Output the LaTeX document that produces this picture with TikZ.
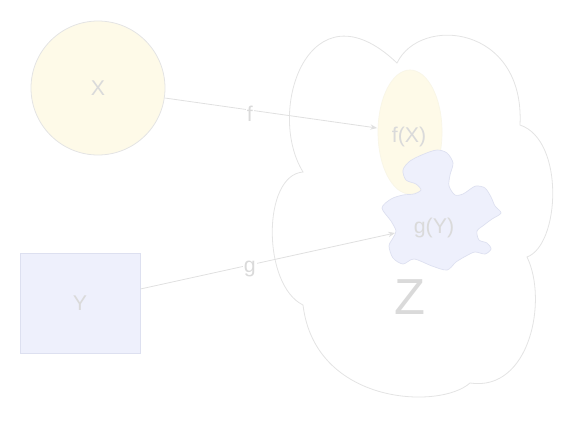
\documentclass[tikz,border=0pt]{standalone}
\usepackage{fontspec}
\setmainfont{Liberation Sans}
\usetikzlibrary{shapes.geometric,arrows.meta}
\definecolor{yfill}{HTML}{FEFAE8}
\definecolor{bfill}{HTML}{EEF0FC}
\definecolor{edge}{HTML}{E4E4E4}
\definecolor{bedge}{HTML}{DDE0F0}
\definecolor{txt}{HTML}{DADADA}
\definecolor{lin}{HTML}{E0E0E0}
\tikzset{
  lbl/.style={text=txt, font=\fontsize{16}{18}\selectfont},
  conn/.style={draw=lin, line width=0.6pt, -{Stealth[length=5pt,width=4pt]}},
  clbl/.style={lbl, fill=white, inner sep=1pt, yshift=-3pt},
}
\begin{document}
\begin{tikzpicture}[x=0.75pt,y=-0.75pt]
\useasboundingbox (0,0) rectangle (573,436);
% Cloud Z
\draw[draw=edge, fill=white, line width=0.6pt]
  (397,63) .. controls (420,15) and (525,25) .. (520,125)
  .. controls (565,140) and (560,245) .. (527,257)
  .. controls (548,300) and (530,392) .. (470,383)
  .. controls (440,410) and (315,405) .. (303,305)
  .. controls (262,285) and (262,175) .. (303,172)
  .. controls (265,110) and (310,-20) .. (397,63) -- cycle;
\node[lbl, font=\fontsize{38}{40}\selectfont] (z) at (410,297) {Z};
% X
\node[circle, draw=edge, fill=yfill, line width=0.6pt, minimum size=100.5pt, inner sep=0pt, lbl] (x) at (98,88) {X};
% Y
\node[rectangle, draw=bedge, fill=bfill, line width=0.6pt, minimum width=90pt, minimum height=75pt, inner sep=0pt, lbl] (y) at (80,303) {Y};
% f(X)
\node[ellipse, draw=yfill!80!edge, fill=yfill, line width=0.5pt, minimum width=48pt, minimum height=93pt, inner sep=0pt] (fx) at (410,132) {};
\node[lbl] (fxl) at (409,137) {f(X)};
% g(Y) puzzle
\draw[draw=bedge, fill=bfill, line width=0.5pt] plot[smooth cycle, tension=0.5] coordinates {
 (437,150) (447,153) (453,163) (450,175) (449,186) (455,195) (463,194) (469,190)
 (476,186) (485,188) (491,197) (495,206) (501,213) (492,219) (484,225) (477,231)
 (479,240) (487,243) (491,249) (485,254) (475,252) (466,256) (456,262) (447,270)
 (432,266) (414,259) (403,264) (393,258) (389,246) (393,238) (396,231) (391,221)
 (382,208) (391,199) (403,195) (414,194) (421,190) (416,184) (406,180) (403,170)
 (410,161) (424,154)};
\node[lbl] (gy) at (434,228) {g(Y)};
\coordinate (gin) at (395,233);
\coordinate (fin) at (377,128);
% connectors
\draw[conn] (x) ++(8.5:68) coordinate (xs) -- (fin) node[clbl, pos=0.4] {f};
\draw[conn] (y.east |- 0,289) coordinate (ys) -- (gin) node[clbl, pos=0.43] {g};
\end{tikzpicture}
\end{document}
